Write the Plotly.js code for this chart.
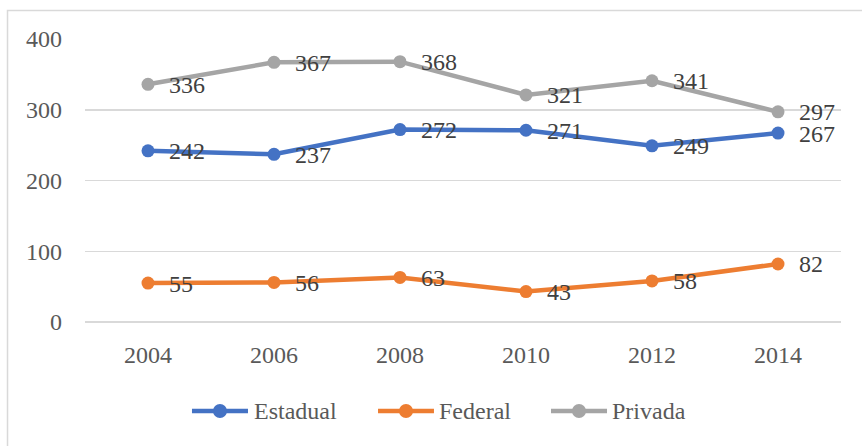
<!DOCTYPE html>
<html>
<head>
<meta charset="utf-8">
<script src="https://cdn.plot.ly/plotly-3.0.1.min.js"></script>
<style>
  html, body { margin: 0; padding: 0; background: #ffffff; }
  #chart { width: 862px; height: 446px; }
</style>
</head>
<body>
<div id="chart"></div>
<script>
// Years on the horizontal axis
const years = ['2004', '2006', '2008', '2010', '2012', '2014'];

// Series values per year
const estadual = [242, 237, 272, 271, 249, 267];
const federal  = [55, 56, 63, 43, 58, 82];
const privada  = [336, 367, 368, 321, 341, 297];

// Series names and colours
const seriesNames = ['Estadual', 'Federal', 'Privada'];
const seriesColors = ['#4472C4', '#ED7D31', '#A5A5A5'];

const yTicks = [0, 100, 200, 300, 400];

const FONT = '"Book Antiqua", "Palatino Linotype", Palatino, "Liberation Serif", serif';

const seriesValues = [estadual, federal, privada];

const traces = seriesValues.map((vals, i) => ({
  type: 'scatter',
  mode: 'lines+markers',
  name: seriesNames[i],
  x: years,
  y: vals,
  line: { color: seriesColors[i], width: 4.5 },
  marker: { color: seriesColors[i], size: 13 },
  showlegend: false,
  hoverinfo: 'x+y+name'
}));

// Value labels sit just right of each point (x given as category index)
const annotations = [];
seriesValues.forEach((vals) => {
  vals.forEach((v, j) => {
    annotations.push({
      x: j, y: v, xref: 'x', yref: 'y',
      text: String(v), showarrow: false,
      xanchor: 'left', yanchor: 'middle',
      xshift: 19, yshift: -0.5,
      font: { family: FONT, size: 24, color: '#404040' }
    });
  });
});

// Fragment of the caption line above the chart frame
annotations.push({
  xref: 'paper', yref: 'paper', x: -0.1124, y: 1.118,
  xanchor: 'left', yanchor: 'bottom', showarrow: false,
  text: '<b>2014.</b>',
  font: { family: FONT, size: 22, color: '#000000' }
});

// Legend row below the axis: line + marker swatch followed by the name
const legendY = -0.3145;
const legendSwatches = [
  { x0: 0.1415, x1: 0.2156, tx: 0.2209 },
  { x0: 0.3876, x1: 0.4616, tx: 0.4656 },
  { x0: 0.6164, x1: 0.6905, tx: 0.6944 }
];
const dotRx = 7 / 756, dotRy = 7 / 283;

const shapes = [{
  type: 'rect', xref: 'paper', yref: 'paper',
  x0: -0.1025, x1: 1.1, y0: -0.6, y1: 1.1007,
  line: { color: '#D9D9D9', width: 1.5 },
  fillcolor: 'rgba(0,0,0,0)',
  layer: 'below'
}];

legendSwatches.forEach((s, i) => {
  const cx = (s.x0 + s.x1) / 2;
  shapes.push({
    type: 'line', xref: 'paper', yref: 'paper',
    x0: s.x0, x1: s.x1, y0: legendY, y1: legendY,
    line: { color: seriesColors[i], width: 4.5 }
  });
  shapes.push({
    type: 'circle', xref: 'paper', yref: 'paper',
    x0: cx - dotRx, x1: cx + dotRx, y0: legendY - dotRy, y1: legendY + dotRy,
    line: { width: 0 }, fillcolor: seriesColors[i]
  });
  annotations.push({
    xref: 'paper', yref: 'paper', x: s.tx, y: legendY,
    xanchor: 'left', yanchor: 'middle', showarrow: false,
    text: seriesNames[i],
    font: { family: FONT, size: 24, color: '#595959' }
  });
});

const layout = {
  width: 862,
  height: 446,
  margin: { l: 85, r: 21, t: 39, b: 124 },
  paper_bgcolor: '#ffffff',
  plot_bgcolor: '#ffffff',
  font: { family: FONT, size: 24, color: '#595959' },
  showlegend: false,
  xaxis: {
    type: 'category',
    range: [-0.5, 5.5],
    showgrid: false,
    showline: false,
    zeroline: false,
    ticks: '',
    ticklabelstandoff: 16,
    tickfont: { family: FONT, size: 24, color: '#595959' },
    fixedrange: true
  },
  yaxis: {
    range: [0, 400],
    tickvals: yTicks,
    ticktext: yTicks.map(String),
    showgrid: true,
    gridcolor: '#D9D9D9',
    gridwidth: 1.5,
    zeroline: true,
    zerolinecolor: '#D9D9D9',
    zerolinewidth: 1.5,
    showline: false,
    ticks: '',
    ticklabelstandoff: 22,
    tickfont: { family: FONT, size: 24, color: '#595959' },
    fixedrange: true
  },
  shapes: shapes,
  annotations: annotations
};

Plotly.newPlot('chart', traces, layout, { displayModeBar: false, staticPlot: true });
</script>
</body>
</html>
